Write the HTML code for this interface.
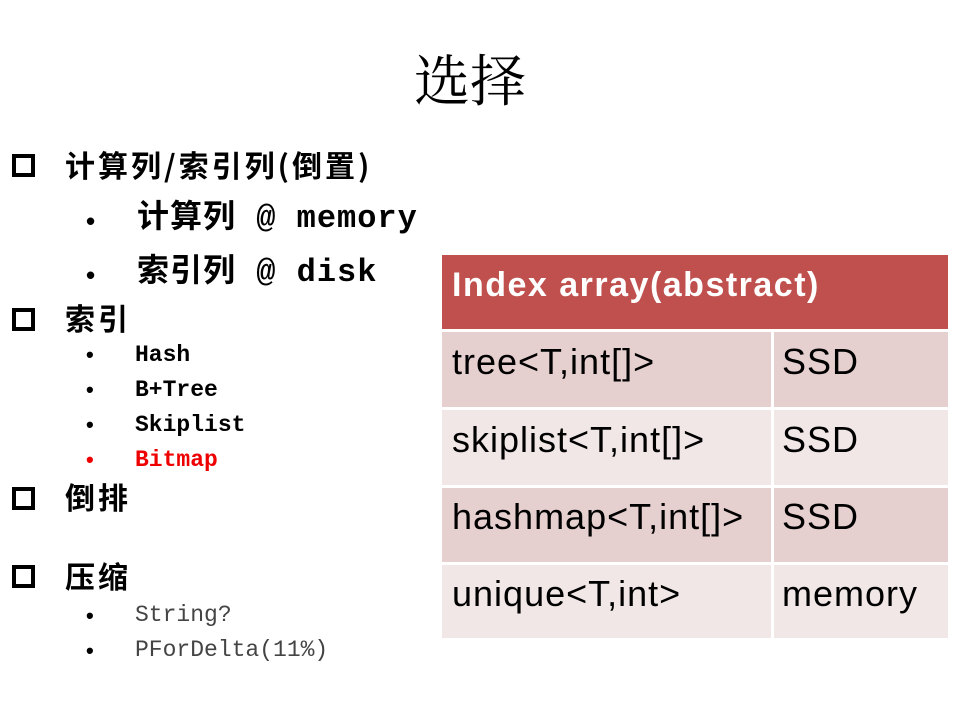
<!DOCTYPE html>
<html><head><meta charset="utf-8"><style>
body{margin:0;width:960px;height:720px;background:#fff;position:relative;overflow:hidden;font-family:"Liberation Serif","Noto Serif CJK SC",serif;}
.a{position:absolute;white-space:nowrap;line-height:1;}
.box{position:absolute;width:23px;height:23px;border:4px solid #000;box-sizing:border-box;}
.m{font-family:"Liberation Mono","Noto Sans CJK SC",monospace;}
.cj{font-family:"Noto Sans CJK SC",sans-serif;}
.b{font-family:"Liberation Sans",sans-serif;font-size:22px;font-weight:bold;}
.c{position:absolute;font-family:"Liberation Sans","Noto Sans CJK SC",sans-serif;font-size:36px;letter-spacing:1px;line-height:1;white-space:nowrap;}
</style></head><body>
<div class="a" style="left:414px;top:50px;font-size:56px;font-family:'Noto Serif CJK SC',serif;">选择</div>

<div class="box" style="left:12px;top:154px"></div>
<div class="a cj" style="left:65px;top:149px;font-size:30px;font-weight:bold;letter-spacing:3px;">计算列/索引列(倒置)</div>
<div class="a b" style="left:86px;top:208px;font-size:26px;">•</div>
<div class="a m" style="left:137px;top:203px;font-size:32px;font-weight:bold;letter-spacing:1px;">计算列 @ memory</div>
<div class="a b" style="left:86px;top:262px;font-size:26px;">•</div>
<div class="a m" style="left:137px;top:257px;font-size:32px;font-weight:bold;letter-spacing:1px;">索引列 @ disk</div>

<div class="box" style="left:12px;top:308px"></div>
<div class="a cj" style="left:65px;top:302px;font-size:30px;font-weight:bold;letter-spacing:3px;">索引</div>
<div class="a b" style="left:86px;top:344px;">•</div>
<div class="a m" style="left:135px;top:344px;font-size:23px;font-weight:bold;">Hash</div>
<div class="a b" style="left:86px;top:379px;">•</div>
<div class="a m" style="left:135px;top:379px;font-size:23px;font-weight:bold;">B+Tree</div>
<div class="a b" style="left:86px;top:414px;">•</div>
<div class="a m" style="left:135px;top:414px;font-size:23px;font-weight:bold;">Skiplist</div>
<div class="a b" style="left:86px;top:449px;color:#e00;">•</div>
<div class="a m" style="left:135px;top:449px;font-size:23px;font-weight:bold;color:#e00;">Bitmap</div>

<div class="box" style="left:12px;top:487px"></div>
<div class="a cj" style="left:65px;top:481px;font-size:30px;font-weight:bold;letter-spacing:3px;">倒排</div>
<div class="box" style="left:12px;top:565px"></div>
<div class="a cj" style="left:65px;top:560px;font-size:30px;font-weight:bold;letter-spacing:3px;">压缩</div>
<div class="a b" style="left:86px;top:605px;">•</div>
<div class="a m" style="left:135px;top:604px;font-size:23px;color:#444;">String?</div>
<div class="a b" style="left:86px;top:640px;">•</div>
<div class="a m" style="left:135px;top:639px;font-size:23px;color:#444;">PForDelta(11%)</div>

<div style="position:absolute;left:442px;top:255px;width:506px;height:74px;background:#C0504D;"></div>
<div class="c" style="left:452px;top:268px;color:#fff;font-weight:bold;font-size:34px;letter-spacing:1.5px;">Index array(abstract)</div>

<div style="position:absolute;left:442px;top:332px;width:329px;height:75px;background:#E6CFCF;"></div>
<div style="position:absolute;left:774px;top:332px;width:174px;height:75px;background:#E6CFCF;"></div>
<div style="position:absolute;left:442px;top:410px;width:329px;height:75px;background:#F2E7E7;"></div>
<div style="position:absolute;left:774px;top:410px;width:174px;height:75px;background:#F2E7E7;"></div>
<div style="position:absolute;left:442px;top:488px;width:329px;height:74px;background:#E6CFCF;"></div>
<div style="position:absolute;left:774px;top:488px;width:174px;height:74px;background:#E6CFCF;"></div>
<div style="position:absolute;left:442px;top:565px;width:329px;height:73px;background:#F2E7E7;"></div>
<div style="position:absolute;left:774px;top:565px;width:174px;height:73px;background:#F2E7E7;"></div>

<div class="c" style="left:452px;top:344px;">tree&lt;T,int[]&gt;</div>
<div class="c" style="left:782px;top:344px;">SSD</div>
<div class="c" style="left:452px;top:422px;">skiplist&lt;T,int[]&gt;</div>
<div class="c" style="left:782px;top:422px;">SSD</div>
<div class="c" style="left:452px;top:499px;">hashmap&lt;T,int[]&gt;</div>
<div class="c" style="left:782px;top:499px;">SSD</div>
<div class="c" style="left:452px;top:576px;">unique&lt;T,int&gt;</div>
<div class="c" style="left:782px;top:576px;">memory</div>
</body></html>
